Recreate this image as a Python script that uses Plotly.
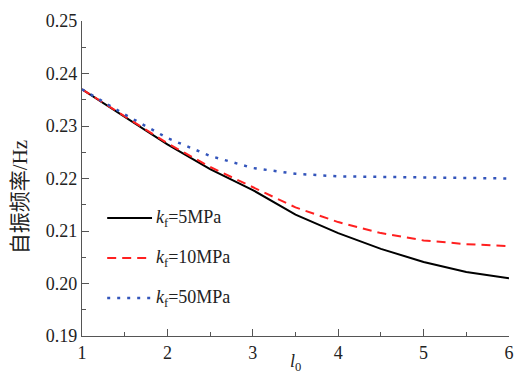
import plotly.graph_objects as go

l0 = [1, 1.5, 2, 2.5, 3, 3.5, 4, 4.5, 5, 5.5, 6]
kf5 = [0.2370, 0.2317, 0.2265, 0.2218, 0.2178, 0.2131, 0.2096, 0.2066, 0.2041, 0.2022, 0.2010]
kf10 = [0.2370, 0.2318, 0.2267, 0.2222, 0.2183, 0.2145, 0.2117, 0.2096, 0.2082, 0.2075, 0.2071]
kf50 = [0.2370, 0.2322, 0.2277, 0.2243, 0.2220, 0.2209, 0.2204, 0.2203, 0.2202, 0.2201, 0.2200]
names = ["<i>k</i><sub>f</sub>=5MPa", "<i>k</i><sub>f</sub>=10MPa", "<i>k</i><sub>f</sub>=50MPa"]
x_ticks = [1, 2, 3, 4, 5, 6]
y_ticks = [0.19, 0.20, 0.21, 0.22, 0.23, 0.24, 0.25]

serif = "Times New Roman"
cjk = "Times New Roman, Noto Sans CJK SC"
colors = ["#000000", "#FF2020", "#3355BB"]
dashes = ["solid", "9px,6px", "3px,7px"]
widths = [2, 2, 2.5]
series = [kf5, kf10, kf50]

fig = go.Figure()
for ys, nm, c, d, w in zip(series, names, colors, dashes, widths):
    fig.add_trace(go.Scatter(x=l0, y=ys, mode="lines", name=nm, showlegend=False,
                             line=dict(color=c, width=w, dash=d)))

# manual legend (paper coordinates)
leg_y = [0.3746, 0.2476, 0.1206]
for nm, c, d, w, yy in zip(names, colors, dashes, widths, leg_y):
    fig.add_shape(type="line", xref="paper", yref="paper", x0=0.059, x1=0.164, y0=yy, y1=yy,
                  line=dict(color=c, width=w, dash=d))
    fig.add_annotation(xref="paper", yref="paper", x=0.168, y=yy, text=nm, showarrow=False,
                       xanchor="left", yanchor="middle",
                       font=dict(family=serif, size=18, color="#222222"))

# axis titles
fig.add_annotation(xref="paper", yref="paper", x=0.5, y=-0.040, text="<i>l</i><sub>0</sub>",
                   showarrow=False, xanchor="center", yanchor="top",
                   font=dict(family=serif, size=18, color="#222222"))
fig.add_annotation(xref="paper", yref="paper", x=-0.145, y=0.441, text="自振频率/Hz",
                   showarrow=False, xanchor="center", yanchor="middle", textangle=-90,
                   font=dict(family=cjk, size=21, color="#222222"))

axis_common = dict(
    showline=True, linecolor="#555555", linewidth=1.2, mirror=False,
    ticks="inside", ticklen=7, tickwidth=1.2, tickcolor="#555555",
    showgrid=False, zeroline=False,
    tickfont=dict(family=serif, size=18, color="#222222"),
)

fig.update_xaxes(range=[1, 6], tickvals=x_ticks, ticktext=[str(v) for v in x_ticks],
                 minor=dict(ticks="inside", ticklen=4, dtick=0.5, tickcolor="#555555", tickwidth=1.2),
                 **axis_common)
fig.update_yaxes(range=[0.19, 0.25], tickvals=y_ticks, ticktext=[f"{v:.2f}" for v in y_ticks],
                 minor=dict(ticks="inside", ticklen=4, dtick=0.005, tickcolor="#555555", tickwidth=1.2),
                 **axis_common)

fig.update_layout(
    width=532, height=381,
    margin=dict(l=82, r=23, t=21, b=45),
    plot_bgcolor="white", paper_bgcolor="white",
    font=dict(family=serif, size=18, color="#222222"),
    showlegend=False,
)

fig.write_html("out.html", config={"displayModeBar": False},
               post_script="document.body.style.margin='0';")
